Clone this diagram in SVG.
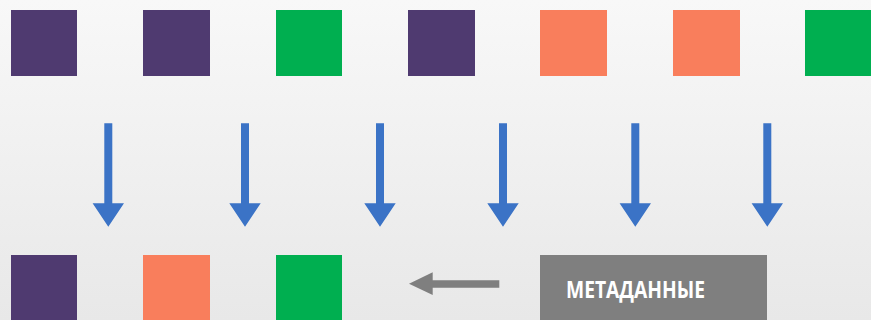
<svg xmlns="http://www.w3.org/2000/svg" width="871" height="320" viewBox="0 0 871 320">
<defs>
<linearGradient id="bg" x1="0" y1="0" x2="0" y2="1">
<stop offset="0" stop-color="#f8f8f8"/>
<stop offset="1" stop-color="#e8e8e8"/>
</linearGradient>
<style>
.p{fill:#4f3a70}.g{fill:#00af50}.o{fill:#f97e5c}
.blue{fill:#3b73c6}.gray{fill:#7f7f7f}
.lbl{font-family:"Open Sans","Liberation Sans",sans-serif;font-weight:700;font-size:24px;fill:#ffffff}
</style>
</defs>
<rect width="871" height="320" fill="url(#bg)"/>
<g id="top-row">
<rect id="t1" class="p" x="11" y="10" width="66" height="66"/>
<rect id="t2" class="p" x="143" y="10" width="67" height="66"/>
<rect id="t3" class="g" x="276" y="10" width="66" height="66"/>
<rect id="t4" class="p" x="408" y="10" width="67" height="66"/>
<rect id="t5" class="o" x="540" y="10" width="67" height="66"/>
<rect id="t6" class="o" x="673" y="10" width="67" height="66"/>
<rect id="t7" class="g" x="805" y="10" width="66" height="66"/>
</g>
<g id="connectors">
<path class="blue" d="M104.3 123.3h8v80h11.7l-15.7 23.4l-15.7-23.4h11.7z"/>
<path class="blue" d="M241 123.3h8v80h11.7l-15.7 23.4l-15.7-23.4h11.7z"/>
<path class="blue" d="M376 123.3h8v80h11.7l-15.7 23.4l-15.7-23.4h11.7z"/>
<path class="blue" d="M499 123.3h8v80h11.7l-15.7 23.4l-15.7-23.4h11.7z"/>
<path class="blue" d="M631.3 123.3h8v80h11.7l-15.7 23.4l-15.7-23.4h11.7z"/>
<path class="blue" d="M763.3 123.3h8v80h11.7l-15.7 23.4l-15.7-23.4h11.7z"/>
<path class="gray" d="M499.3 280.3v7.4h-66.6v7.3l-23.7-11.3l23.7-11.4v8z"/>
</g>
<g id="bottom-row">
<rect id="b1" class="p" x="11" y="255" width="66" height="65"/>
<rect id="b2" class="o" x="143" y="255" width="67" height="65"/>
<rect id="b3" class="g" x="276" y="255" width="66" height="65"/>
</g>
<g id="metadata">
<rect class="gray" x="540" y="255" width="227" height="65"/>
<text class="lbl" x="566" y="298.3" textLength="139" lengthAdjust="spacingAndGlyphs">МЕТАДАННЫЕ</text>
</g>
</svg>
